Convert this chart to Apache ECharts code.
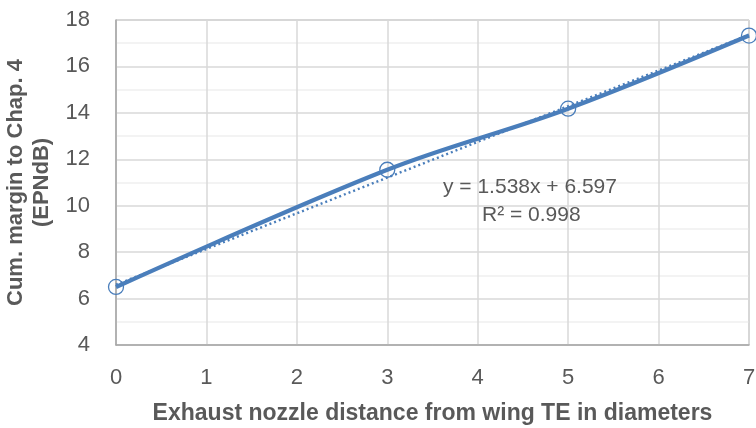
<!DOCTYPE html>
<html>
<head>
<meta charset="utf-8">
<script src="https://cdn.jsdelivr.net/npm/echarts@6/dist/echarts.min.js"></script>
<style>
  html, body { margin: 0; padding: 0; background: #fff; }
  #chart { width: 756px; height: 428px; }
</style>
</head>
<body>
<div id="chart"></div>
<script>
// Nozzle distance (diameters) and cumulative margin (EPNdB)
const distances = [0, 3, 5, 7];
const margins = [6.5, 11.55, 14.18, 17.33];

// Linear trend line as given by its equation
const trendSlope = 1.538;
const trendIntercept = 6.597;
const trendR2 = 0.998;

const yTicks = { min: 4, max: 18, step: 2 };
const xTicks = { min: 0, max: 7, step: 1 };

const blue = '#4a7ebb';
const textGray = '#595959';
const font = 'Liberation Sans, Arial, sans-serif';

const trendData = [xTicks.min, xTicks.max].map(x => [x, trendSlope * x + trendIntercept]);
const points = distances.map((d, i) => [d, margins[i]]);

const chart = echarts.init(document.getElementById('chart'));
chart.setOption({
  animation: false,
  grid: {
    left: 116, right: 7, top: 20, bottom: 83,
    outerBoundsMode: 'none', containLabel: false,
    show: true, borderColor: '#a6a6a6', borderWidth: 1
  },
  xAxis: {
    type: 'value',
    min: xTicks.min, max: xTicks.max, interval: xTicks.step,
    name: 'Exhaust nozzle distance from wing TE in diameters',
    nameLocation: 'middle', nameGap: 57,
    nameTextStyle: { color: textGray, fontSize: 23, fontWeight: 'bold', fontFamily: font },
    axisLine: { show: true, lineStyle: { color: '#a6a6a6', width: 1.5 } },
    axisTick: { show: false },
    axisLabel: { color: textGray, fontSize: 22, fontFamily: font, margin: 22 },
    splitLine: { show: true, lineStyle: { color: '#d9d9d9', width: 1.5 } }
  },
  yAxis: {
    type: 'value',
    min: yTicks.min, max: yTicks.max, interval: yTicks.step,
    name: 'Cum. margin to Chap. 4\n(EPNdB)',
    nameLocation: 'middle', nameGap: 54,
    nameTextStyle: { color: textGray, fontSize: 22, fontWeight: 'bold', fontFamily: font, lineHeight: 26 },
    axisLine: { show: true, lineStyle: { color: '#a6a6a6', width: 1.5 } },
    axisTick: { show: false },
    axisLabel: { color: textGray, fontSize: 22, fontFamily: font, margin: 26 },
    splitLine: { show: true, lineStyle: { color: '#d9d9d9', width: 1.5 } },
    minorTick: { show: false, splitNumber: 2 },
    minorSplitLine: { show: true, lineStyle: { color: '#f0f0f0', width: 1.5 } }
  },
  series: [
    {
      type: 'line',
      data: trendData,
      symbol: 'none',
      lineStyle: { color: blue, width: 2.4, type: [2, 3] },
      z: 2,
      silent: true
    },
    {
      type: 'line',
      data: points,
      smooth: 0.35,
      symbol: 'circle',
      symbolSize: 15,
      showAllSymbol: true,
      lineStyle: { color: blue, width: 4.2 },
      itemStyle: { color: 'rgba(0,0,0,0)', borderColor: blue, borderWidth: 1.3 },
      z: 3
    }
  ],
  graphic: [
    {
      type: 'text', left: 443, top: 177, z: 10,
      style: { text: 'y = 1.538x + 6.597', fill: textGray, fontSize: 21, fontFamily: font }
    },
    {
      type: 'text', left: 482, top: 205, z: 10,
      style: { text: 'R² = ' + trendR2.toFixed(3), fill: textGray, fontSize: 21, fontFamily: font }
    }
  ]
});
</script>
</body>
</html>
